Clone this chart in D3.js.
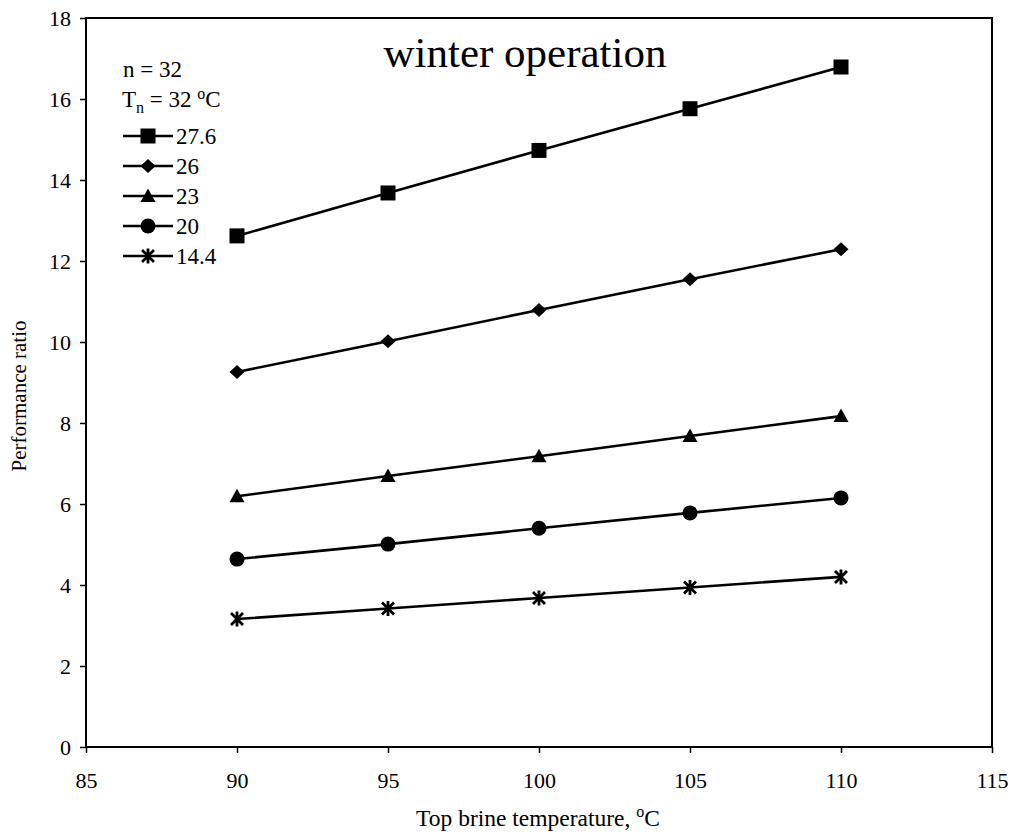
<!DOCTYPE html>
<html>
<head>
<meta charset="utf-8">
<script src="https://cdn.jsdelivr.net/npm/d3@7/dist/d3.min.js"></script>
<style>
  html, body { margin: 0; padding: 0; background: #fff; }
  svg { display: block; }
  svg text { font-family: "Liberation Serif", "Times New Roman", serif !important; fill: #000; }
</style>
</head>
<body>
<svg id="chart" width="1014" height="840" font-family="Liberation Serif, serif"></svg>
<script>
// ---- data ----
const temps = [90, 95, 100, 105, 110];
const seriesNames = ["27.6", "26", "23", "20", "14.4"];
const seriesMarkers = ["square", "diamond", "triangle", "circle", "star"];
const s276 = [12.62, 13.68, 14.73, 15.76, 16.79];
const s26  = [9.26, 10.02, 10.79, 11.55, 12.29];
const s23  = [6.19, 6.69, 7.18, 7.68, 8.17];
const s20  = [4.64, 5.01, 5.40, 5.78, 6.15];
const s144 = [3.16, 3.42, 3.68, 3.94, 4.20];
const seriesValues = [s276, s26, s23, s20, s144];
const xTicks = [85, 90, 95, 100, 105, 110, 115];
const yTicks = [0, 2, 4, 6, 8, 10, 12, 14, 16, 18];
const titleText = "winter operation";
const xLabel = "Top brine temperature, ";
const yLabel = "Performance ratio";

// ---- layout ----
const svg = d3.select("#chart");
const SERIF = "'Liberation Serif', 'Times New Roman', serif";
const L = 86, R = 992, T = 18, B = 747;
const x = d3.scaleLinear().domain([85, 115]).range([L, R]);
const y = d3.scaleLinear().domain([0, 18]).range([B, T]);

// markers
function markerPath(type) {
  switch (type) {
    case "square": return "M-7.5,-7.5H7.5V7.5H-7.5Z";
    case "diamond": return "M0,-7L7.5,0L0,7L-7.5,0Z";
    case "triangle": return "M0,-7.5L7.5,6L-7.5,6Z";
    case "circle": return "M7.5,0A7.5,7.5 0 1,1 -7.5,0A7.5,7.5 0 1,1 7.5,0Z";
    case "star": return "M-6,-6L6,6M-6,6L6,-6M0,-7.5V7.5";
  }
}
function drawMarker(g, type, cx, cy) {
  const p = g.append("path").attr("d", markerPath(type))
    .attr("transform", `translate(${cx},${cy})`);
  if (type === "star") p.attr("fill", "none").attr("stroke", "#000").attr("stroke-width", 2.8);
  else p.attr("fill", "#000");
}

// axes
const yAxis = d3.axisLeft(y).tickValues(yTicks).tickSize(6).tickPadding(9).tickFormat(d3.format("d"));
const xAxis = d3.axisBottom(x).tickValues(xTicks).tickSize(6).tickPadding(19).tickFormat(d3.format("d"));

const gy = svg.append("g").attr("transform", `translate(${L},0)`).call(yAxis);
const gx = svg.append("g").attr("transform", `translate(0,${B})`).call(xAxis);
[gx, gy].forEach(g => {
  g.attr("font-family", SERIF).attr("font-size", 22);
  g.select(".domain").remove();
  g.selectAll(".tick line").attr("stroke", "#000").attr("stroke-width", 1.5);
  g.selectAll(".tick text").attr("font-family", SERIF).attr("font-size", 22).attr("fill", "#000");
});

// frame
svg.append("rect").attr("x", L).attr("y", T).attr("width", R - L).attr("height", B - T)
  .attr("fill", "none").attr("stroke", "#000").attr("stroke-width", 2);

// series lines + markers
const line = d3.line().x((d, i) => x(temps[i])).y(d => y(d));
seriesValues.forEach((vals, si) => {
  const g = svg.append("g");
  g.append("path").attr("d", line(vals)).attr("fill", "none")
    .attr("stroke", "#000").attr("stroke-width", 2.6);
  vals.forEach((v, i) => drawMarker(g, seriesMarkers[si], x(temps[i]), y(v)));
});

// title
svg.append("text").attr("x", 525).attr("y", 67).attr("text-anchor", "middle")
  .attr("font-family", SERIF).attr("font-size", 43).text(titleText);

// legend
const lg = svg.append("g").attr("font-family", SERIF);
lg.append("text").attr("x", 123).attr("y", 77).attr("font-size", 23).text("n = 32");
const tn = lg.append("text").attr("x", 122).attr("y", 107).attr("font-size", 23);
tn.append("tspan").text("T");
tn.append("tspan").attr("dy", 6).attr("font-size", 16).text("n");
tn.append("tspan").attr("dy", -6).text(" = 32 ");
tn.append("tspan").attr("dy", -8).attr("font-size", 16).text("o");
tn.append("tspan").attr("dy", 8).text("C");

seriesNames.forEach((name, i) => {
  const cy = 136 + i * 30;
  lg.append("line").attr("x1", 123).attr("x2", 173).attr("y1", cy).attr("y2", cy)
    .attr("stroke", "#000").attr("stroke-width", 2.6);
  drawMarker(lg, seriesMarkers[i], 148, cy);
  lg.append("text").attr("x", 176).attr("y", cy + 8).attr("font-size", 23).text(name);
});

// axis labels
const xl = svg.append("text").attr("x", 538).attr("y", 826).attr("text-anchor", "middle")
  .attr("font-family", SERIF).attr("font-size", 23.5);
xl.append("tspan").text(xLabel);
xl.append("tspan").attr("dy", -9).attr("font-size", 16).text("o");
xl.append("tspan").attr("dy", 9).text("C");

svg.append("text").attr("transform", "translate(26,396) rotate(-90)")
  .attr("text-anchor", "middle").attr("font-family", SERIF).attr("font-size", 21).text(yLabel);
</script>
</body>
</html>
